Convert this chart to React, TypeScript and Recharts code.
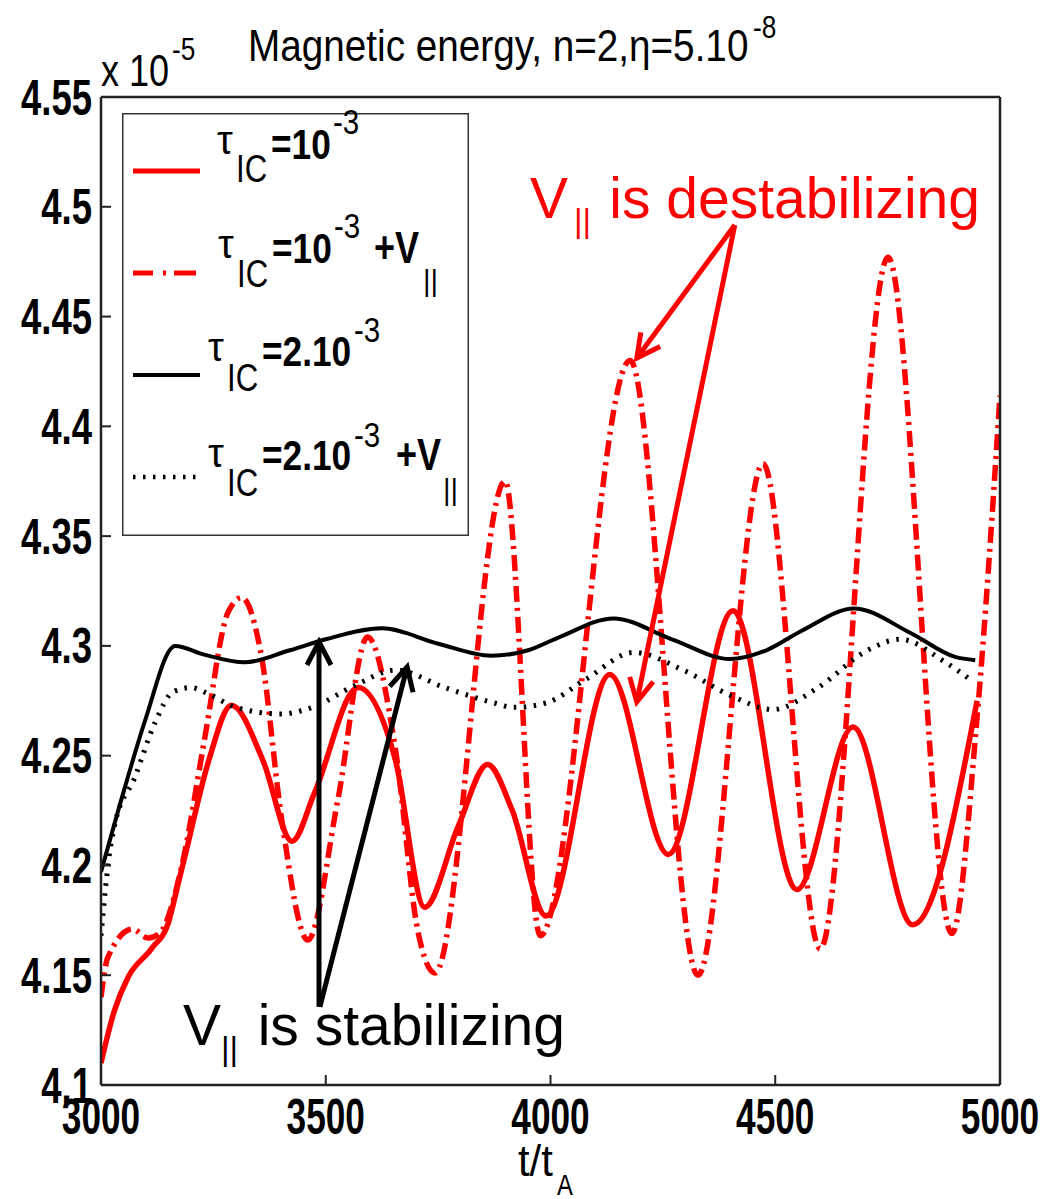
import React from "react";
import { LineChart, Line, XAxis, YAxis, Legend, ReferenceLine } from "recharts";

const SANS = "'Liberation Sans', Arial, sans-serif";
const RED = "#ff0000";

const xTicks = [3000, 3500, 4000, 4500, 5000];
const yTicks = [4.1, 4.15, 4.2, 4.25, 4.3, 4.35, 4.4, 4.45, 4.5, 4.55];

// tau_IC = 1e-3
const redT = [3000, 3030, 3060, 3112, 3150, 3172, 3190, 3240, 3290, 3360, 3425, 3475, 3572, 3655, 3720, 3795, 3860, 3915, 3990, 4132, 4262, 4406, 4548, 4673, 4806, 4949];
const redV = [4.11, 4.134, 4.149, 4.162, 4.174, 4.192, 4.207, 4.248, 4.273, 4.248, 4.211, 4.233, 4.281, 4.248, 4.181, 4.218, 4.246, 4.225, 4.177, 4.287, 4.205, 4.316, 4.189, 4.263, 4.173, 4.275];

// tau_IC = 1e-3 + V||
const redVparT = [3000, 3015, 3070, 3105, 3130, 3180, 3230, 3282, 3313, 3358, 3402, 3460, 3527, 3593, 3655, 3705, 3743, 3899, 3977, 4177, 4328, 4473, 4600, 4751, 4893, 4950, 5000];
const redVparV = [4.14, 4.158, 4.171, 4.167, 4.169, 4.2, 4.257, 4.315, 4.322, 4.294, 4.221, 4.166, 4.23, 4.304, 4.253, 4.17, 4.151, 4.375, 4.168, 4.43, 4.15, 4.383, 4.162, 4.477, 4.169, 4.27, 4.414];

// tau_IC = 2e-3
const blackT = [3000, 3058, 3098, 3165, 3230, 3320, 3420, 3500, 3625, 3750, 3868, 3950, 4020, 4140, 4270, 4400, 4480, 4560, 4675, 4800, 4900, 4945];
const blackV = [4.197, 4.239, 4.266, 4.3, 4.296, 4.2925, 4.298, 4.303, 4.308, 4.301, 4.2955, 4.298, 4.304, 4.3125, 4.303, 4.294, 4.298, 4.307, 4.317, 4.306, 4.295, 4.2935];

// tau_IC = 2e-3 + V||
const dotT = [3000, 3020, 3030, 3075, 3120, 3160, 3200, 3240, 3300, 3400, 3470, 3565, 3655, 3765, 3875, 3917, 3990, 4080, 4185, 4295, 4405, 4495, 4595, 4705, 4778, 4875, 4935];
const dotV = [4.168, 4.207, 4.218, 4.24, 4.265, 4.279, 4.281, 4.278, 4.272, 4.269, 4.272, 4.282, 4.289, 4.281, 4.274, 4.272, 4.274, 4.285, 4.297, 4.289, 4.277, 4.271, 4.281, 4.298, 4.303, 4.293, 4.2845];

// annotation arrows, in data coordinates
const redArrows = [
  [{ x: 4410, y: 4.4917 }, { x: 4192, y: 4.4311 }],
  [{ x: 4410, y: 4.4917 }, { x: 4192, y: 4.2745 }],
];
const blackArrows = [
  [{ x: 3485, y: 4.1356 }, { x: 3485, y: 4.3018 }],
  [{ x: 3487, y: 4.1356 }, { x: 3681, y: 4.2904 }],
];

const zip = (ts: number[], vs: number[]) => ts.map((t, i) => ({ t, v: vs[i] }));

const arrowShape = (color: string) => (props: any) => {
  const { x1, y1, x2, y2 } = props;
  const ang = Math.atan2(y2 - y1, x2 - x1);
  const len = 26;
  const spread = 0.48;
  const ax = x2 - len * Math.cos(ang - spread);
  const ay = y2 - len * Math.sin(ang - spread);
  const bx = x2 - len * Math.cos(ang + spread);
  const by = y2 - len * Math.sin(ang + spread);
  return (
    <g>
      <line x1={x1} y1={y1} x2={x2} y2={y2} stroke={color} strokeWidth={5} />
      <path d={`M${ax},${ay} L${x2},${y2} L${bx},${by}`} fill="none" stroke={color} strokeWidth={5} />
    </g>
  );
};

// condensed text: Liberation Sans squeezed horizontally, like the MATLAB font
const N = ({ x, y, size, bold, anchor, sx = 0.82, sy = 1, fill = "#000", children }: any) => (
  <text
    transform={`translate(${x},${y}) scale(${sx},${sy})`}
    fontFamily={SANS}
    fontSize={size}
    fontWeight={bold ? "bold" : "normal"}
    textAnchor={anchor || "start"}
    fill={fill}
  >
    {children}
  </text>
);

const fmtY = (v: number) => String(Number(v.toFixed(2)));

const YTick = (props: any) => {
  const { x, y, payload } = props;
  return <N x={x} y={y + 17.5} size={44} bold anchor="end" sx={0.83} sy={1.12}>{fmtY(payload.value)}</N>;
};

const XTick = (props: any) => {
  const { x, y, payload } = props;
  return <N x={x} y={y + 35} size={44} bold anchor="middle" sx={0.8} sy={1.12}>{payload.value}</N>;
};

const Tau = ({ x, y, main, supDx, extra }: any) => (
  <g>
    <text x={x} y={y.tau} fontFamily={SANS} fontSize={40}>τ</text>
    <N x={x + 19} y={y.sub} size={38}>IC</N>
    <N x={x + 54} y={y.main} size={43} bold>{main}</N>
    <N x={x + supDx} y={y.sup} size={36}>-3</N>
    {extra && <N x={x + extra.dx} y={y.main} size={44} bold>+V</N>}
    {extra && <text x={x + extra.bx} y={y.bars} fontFamily={SANS} fontSize={29}>||</text>}
  </g>
);

const LegendBox = () => (
  <svg width={347} height={423} style={{ display: "block", overflow: "visible" }}>
    <rect x={0.75} y={0.75} width={345.5} height={421.5} fill="#fff" stroke="#333" strokeWidth={1.5} />
    <line x1={11} y1={58} x2={78} y2={58} stroke={RED} strokeWidth={5} />
    <line x1={11} y1={160} x2={74} y2={160} stroke={RED} strokeWidth={5} strokeDasharray="20 10 3 8 22" />
    <line x1={11} y1={262} x2={78} y2={262} stroke="#000" strokeWidth={4} />
    <line x1={11} y1={364} x2={76} y2={364} stroke="#000" strokeWidth={4.5} strokeDasharray="2.5 7.5" />
    <Tau x={95} y={{ tau: 41, sub: 69, main: 46, sup: 21 }} main="=10" supDx={116} />
    <Tau x={96} y={{ tau: 145, sub: 174, main: 150, sup: 125, bars: 178 }} main="=10" supDx={116} extra={{ dx: 156, bx: 205 }} />
    <Tau x={86} y={{ tau: 248, sub: 278, main: 253, sup: 229 }} main="=2.10" supDx={146} />
    <Tau x={86} y={{ tau: 354, sub: 383, main: 357, sup: 334, bars: 387 }} main="=2.10" supDx={146} extra={{ dx: 188, bx: 235 }} />
  </svg>
);

const axisStyle = { stroke: "#222", strokeWidth: 2.5 };
const tickStyle = { stroke: "#222", strokeWidth: 2 };

export default function App() {
  return (
    <div style={{ position: "absolute", left: 0, top: 0, width: 1059, height: 1199, background: "#fff" }}>
      <LineChart width={1059} height={1199} margin={{ top: 96, right: 58, bottom: 34, left: 31 }}>
        <XAxis
          dataKey="t"
          type="number"
          domain={[3000, 5000]}
          ticks={xTicks}
          allowDataOverflow
          height={80}
          tickSize={-10}
          tickMargin={24}
          tick={<XTick />}
          axisLine={axisStyle}
          tickLine={tickStyle}
        />
        <XAxis
          xAxisId="top"
          orientation="top"
          dataKey="t"
          type="number"
          domain={[3000, 5000]}
          ticks={xTicks}
          height={1}
          tickSize={-10}
          tick={false}
          axisLine={axisStyle}
          tickLine={tickStyle}
        />
        <YAxis
          type="number"
          domain={[4.1, 4.55]}
          ticks={yTicks}
          allowDataOverflow
          width={70}
          tickSize={-10}
          tickMargin={19}
          tick={<YTick />}
          axisLine={axisStyle}
          tickLine={tickStyle}
        />
        <YAxis
          yAxisId="right"
          orientation="right"
          type="number"
          domain={[4.1, 4.55]}
          ticks={yTicks}
          width={1}
          tickSize={-10}
          tick={false}
          axisLine={axisStyle}
          tickLine={tickStyle}
        />
        <Legend
          layout="horizontal"
          verticalAlign="middle"
          align="center"
          content={() => <LegendBox />}
          wrapperStyle={{ position: "absolute", left: 122, top: 113, width: 347, height: 423 }}
        />
        <Line data={zip(redT, redV)} dataKey="v" type="monotone" stroke={RED} strokeWidth={5.5} dot={false} activeDot={false} isAnimationActive={false} />
        <Line data={zip(redVparT, redVparV)} dataKey="v" type="monotone" stroke={RED} strokeWidth={5.5} strokeDasharray="16 6 3 6" dot={false} activeDot={false} isAnimationActive={false} />
        <Line data={zip(blackT, blackV)} dataKey="v" type="monotone" stroke="#000" strokeWidth={4} dot={false} activeDot={false} isAnimationActive={false} />
        <Line data={zip(dotT, dotV)} dataKey="v" type="monotone" stroke="#000" strokeWidth={5} strokeDasharray="2.5 7.5" dot={false} activeDot={false} isAnimationActive={false} />
        {redArrows.map((seg, i) => (
          <ReferenceLine key={"r" + i} segment={seg} ifOverflow="visible" shape={arrowShape(RED)} />
        ))}
        {blackArrows.map((seg, i) => (
          <ReferenceLine key={"b" + i} segment={seg} ifOverflow="visible" shape={arrowShape("#000")} />
        ))}
      </LineChart>
      <svg width={1059} height={1199} style={{ position: "absolute", left: 0, top: 0, pointerEvents: "none" }}>
        <N x={101} y={86} size={44}>x 10</N>
        <N x={172} y={60} size={32}>-5</N>
        <N x={248} y={61} size={45} sx={0.86}>Magnetic energy, n=2,η=5.10</N>
        <N x={753} y={38} size={32}>-8</N>
        <N x={518} y={1176} size={44} sx={0.95}>t/t</N>
        <N x={557} y={1195} size={29}>A</N>
        <g fill={RED} fontFamily={SANS}>
          <text x={530} y={218} fontSize={57}>V</text>
          <text x={574} y={232} fontSize={33}>||</text>
          <text x={980} y={218} fontSize={57} textAnchor="end">is destabilizing</text>
        </g>
        <g fill="#000" fontFamily={SANS}>
          <text x={183} y={1045} fontSize={57}>V</text>
          <text x={221} y={1060} fontSize={33}>||</text>
          <text x={565} y={1045} fontSize={57} textAnchor="end">is stabilizing</text>
        </g>
      </svg>
    </div>
  );
}
